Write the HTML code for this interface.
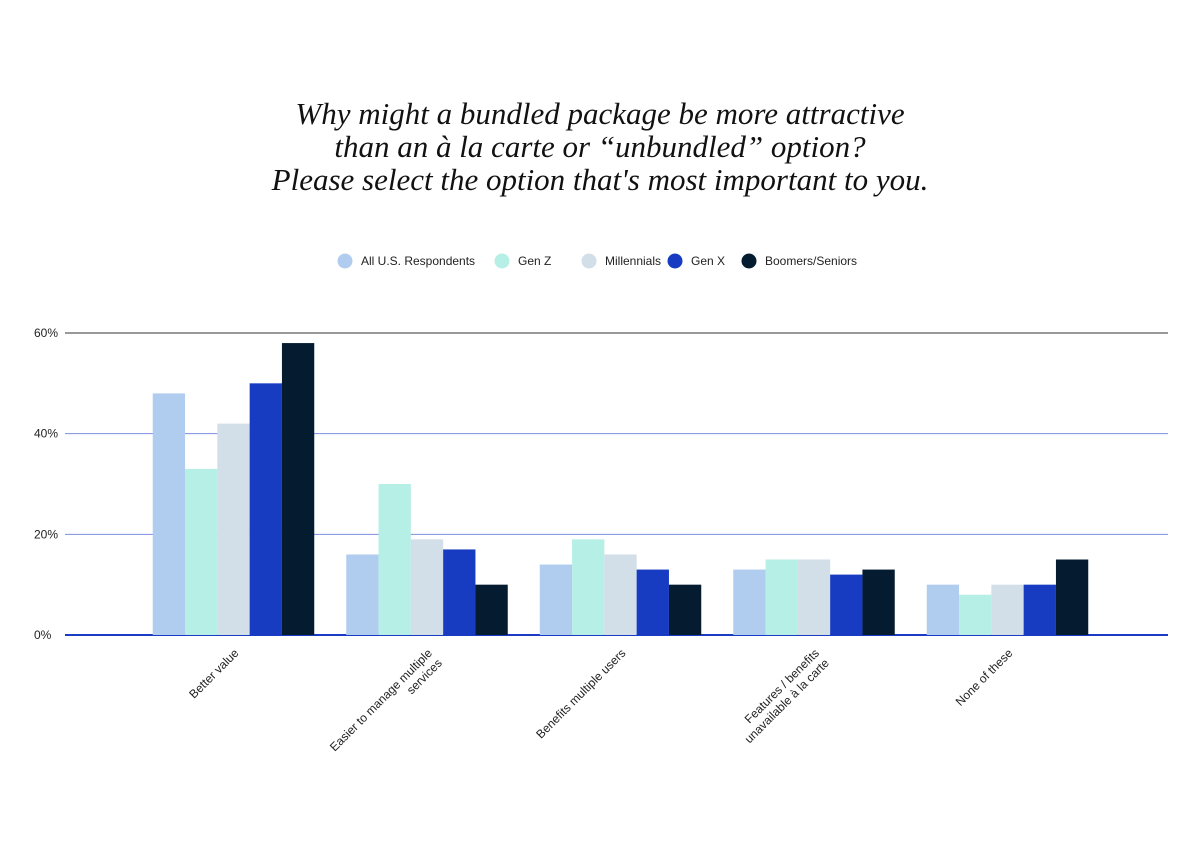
<!DOCTYPE html>
<html><head><meta charset="utf-8"><style>
body{margin:0;background:#fff;}
svg text{font-family:"Liberation Sans",sans-serif;}
</style></head><body>
<svg id="chart" width="1200" height="840" viewBox="0 0 1200 840" xmlns="http://www.w3.org/2000/svg">
<g font-style="italic" font-size="31" text-anchor="middle" fill="#111">
<text x="600" y="124" style="font-family:'Liberation Serif',serif">Why might a bundled package be more attractive</text>
<text x="600" y="157" style="font-family:'Liberation Serif',serif">than an à la carte or “unbundled” option?</text>
<text x="600" y="190" style="font-family:'Liberation Serif',serif">Please select the option that's most important to you.</text>
</g>
<g id="legend"></g>
<g id="grid"></g>
<g id="bars"></g>
<g id="xlabels"></g>
</svg>
<script>
const categories = ["Better value","Easier to manage multiple|services","Benefits multiple users","Features / benefits|unavailable à la carte","None of these"];
const seriesNames = ["All U.S. Respondents","Gen Z","Millennials","Gen X","Boomers/Seniors"];
const allUS = [48,16,14,13,10];
const genZ = [33,30,19,15,8];
const millennials = [42,19,16,15,10];
const genX = [50,17,13,12,10];
const boomers = [58,10,10,13,15];
const yTicks = [0,20,40,60];
const yTickLabels = ["0%","20%","40%","60%"];

const series=[allUS,genZ,millennials,genX,boomers];
const colors=["#b0cdf0","#b6efe5","#d2dee8","#173cc2","#051c30"];
const NS="http://www.w3.org/2000/svg";
const y0=635, pxPer=(635-333)/60;
const yScale=v=>y0-v*pxPer;
const bandStep=193.5, firstCenter=233.5, barW=32.3;
const xCenter=i=>firstCenter+i*bandStep;
function mk(tag,attrs,parent){const e=document.createElementNS(NS,tag);for(const k in attrs)e.setAttribute(k,attrs[k]);parent.appendChild(e);return e;}

const grid=document.getElementById('grid');
yTicks.forEach((t,i)=>{
  if(t>0){
    const l=mk('line',{x1:65,x2:1168,y1:yScale(t),y2:yScale(t),stroke:t===60?'#333':'#7d8fe0','stroke-width':1},grid);
    
    
  }
  const tx=mk('text',{x:34,y:yScale(t)+4,'font-size':12,fill:'#222'},grid);
  tx.textContent=yTickLabels[i];
  
  
});

const bars=document.getElementById('bars');
categories.forEach((c,i)=>{
  series.forEach((s,j)=>{
    const x=xCenter(i)-2.5*barW+j*barW;
    const r=mk('rect',{x:x,y:yScale(s[i]),width:barW,height:yScale(0)-yScale(s[i]),fill:colors[j]},bars);
    
    
  });
});
const base=mk('line',{x1:65,x2:1168,y1:y0,y2:y0,stroke:'#1a3cc4','stroke-width':2},grid);



const xl=document.getElementById('xlabels');
categories.forEach((c,i)=>{
  const lines=c.split('|');
  const g=mk('g',{transform:`translate(${xCenter(i)+3},${651}) rotate(-45)`},xl);
  
  
  lines.forEach((ln,k)=>{
    const t=mk('text',{x:0,y:k*14+4,'font-size':12,'text-anchor':'end',fill:'#222'},g);
    t.textContent=ln;
  });
});

const lg=document.getElementById('legend');
const lx=[345,502,589,675,749];
seriesNames.forEach((n,j)=>{
  const g=mk('g',{},lg);
  
  
  mk('circle',{cx:lx[j],cy:261,r:7.5,fill:colors[j]},g);
  const t=mk('text',{x:lx[j]+16,y:265,'font-size':12,fill:'#222'},g);
  t.textContent=n;
});
</script>
</body></html>
